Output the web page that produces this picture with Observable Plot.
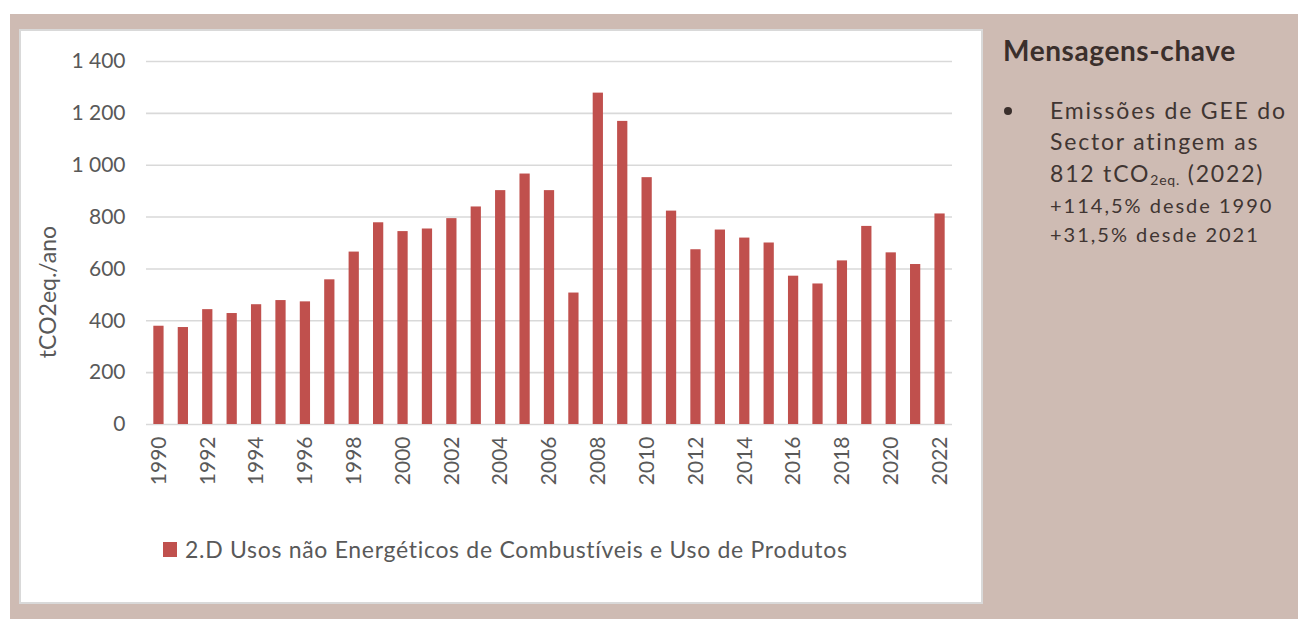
<!DOCTYPE html>
<html>
<head>
<meta charset="utf-8">
<script src="https://cdn.jsdelivr.net/npm/d3@7"></script>
<script src="https://cdn.jsdelivr.net/npm/@observablehq/plot@0.6"></script>
<style>
  html, body { margin: 0; padding: 0; background: #ffffff; }
  #page { position: relative; width: 1298px; height: 619px; overflow: hidden; background: #ffffff; font-family: Lato, "Open Sans", sans-serif; }
  #beige { position: absolute; left: 10px; top: 14px; width: 1288px; height: 605px; background: #cebbb3; }
  #panel { position: absolute; left: 19px; top: 29px; width: 960px; height: 571px; background: #ffffff; border: 2px solid #d9d9d9; }
  #chart { position: absolute; left: 20px; top: 30px; }
  #ylabel { position: absolute; left: 47px; top: 292px; transform: translate(-50%, -50%) rotate(-90deg); white-space: nowrap; font-size: 23px; color: #595959; }
  #legend { position: absolute; left: 163px; top: 535px; white-space: nowrap; font-size: 23px; letter-spacing: 0.7px; color: #595959; display: flex; align-items: center; }
  #legend .sw { display: inline-block; width: 14px; height: 15px; background: #c0504d; margin-right: 8px; }
  #title { position: absolute; left: 1003px; top: 33px; font-size: 28px; letter-spacing: 0.6px; font-weight: bold; color: #3a2f2c; white-space: nowrap; }
  #bullet { position: absolute; left: 1004px; top: 107px; width: 8px; height: 8px; border-radius: 50%; background: #3a2f2c; }
  .msg { position: absolute; left: 1050px; color: #403532; white-space: nowrap; }
  .big { font-size: 23px; letter-spacing: 1.8px; }
  .small { font-size: 20px; letter-spacing: 2px; }
  sub { font-size: 14px; vertical-align: baseline; position: relative; top: 3px; letter-spacing: 0.8px; }
</style>
</head>
<body>
<div id="page">
  <div id="beige"></div>
  <div id="panel"></div>
  <div id="chart"></div>
  <div id="ylabel">tCO2eq./ano</div>
  <div id="legend"><span class="sw"></span><span id="legendText"></span></div>
  <div id="title">Mensagens-chave</div>
  <div id="bullet"></div>
  <div class="msg big" style="top:96px">Emissões de GEE do</div>
  <div class="msg big" style="top:127px">Sector atingem as</div>
  <div class="msg big" style="top:159px">812 tCO<sub>2eq.</sub> (2022)</div>
  <div class="msg small" style="top:193px">+114,5% desde 1990</div>
  <div class="msg small" style="top:222px">+31,5% desde 2021</div>
</div>
<script>
const years = [1990, 1991, 1992, 1993, 1994, 1995, 1996, 1997, 1998, 1999, 2000, 2001, 2002, 2003, 2004, 2005, 2006, 2007, 2008, 2009, 2010, 2011, 2012, 2013, 2014, 2015, 2016, 2017, 2018, 2019, 2020, 2021, 2022];
const emissions = [379, 374, 443, 428, 462, 478, 473, 558, 665, 778, 744, 754, 794, 839, 902, 966, 902, 507, 1278, 1169, 952, 823, 674, 750, 719, 700, 572, 542, 631, 764, 662, 617, 812];
const seriesName = "2.D Usos não Energéticos de Combustíveis e Uso de Produtos";
const yTicks = [0, 200, 400, 600, 800, 1000, 1200, 1400];
const yTickLabels = ["0", "200", "400", "600", "800", "1 000", "1 200", "1 400"];
const xTicks = [1990, 1992, 1994, 1996, 1998, 2000, 2002, 2004, 2006, 2008, 2010, 2012, 2014, 2016, 2018, 2020, 2022];

const data = years.map((year, i) => ({year, value: emissions[i]}));

const chart = Plot.plot({
  width: 962,
  height: 480,
  marginLeft: 126,
  marginRight: 30,
  marginTop: 31,
  marginBottom: 86,
  style: {fontFamily: "Lato, 'Open Sans', sans-serif", fontSize: "21px", color: "#595959", background: "transparent"},
  x: {type: "band", domain: years, paddingInner: 0.58, paddingOuter: 0.3, round: false},
  y: {domain: [0, 1400]},
  marks: [
    Plot.ruleY(yTicks, {stroke: "#d9d9d9", strokeWidth: 1.6}),
    Plot.barY(data, {x: "year", y: "value", fill: "#c0504d"}),
    Plot.axisY({ticks: yTicks, tickSize: 0, tickPadding: 21, label: null,
      tickFormat: d => yTickLabels[yTicks.indexOf(d)], fill: "#595959", fontSize: 21}),
    Plot.axisX({ticks: xTicks, tickSize: 0, tickPadding: 12, tickRotate: -90, label: null,
      tickFormat: d => String(d), fill: "#595959", fontSize: 21})
  ]
});
document.getElementById("chart").appendChild(chart);
document.getElementById("legendText").textContent = seriesName;
</script>
</body>
</html>
